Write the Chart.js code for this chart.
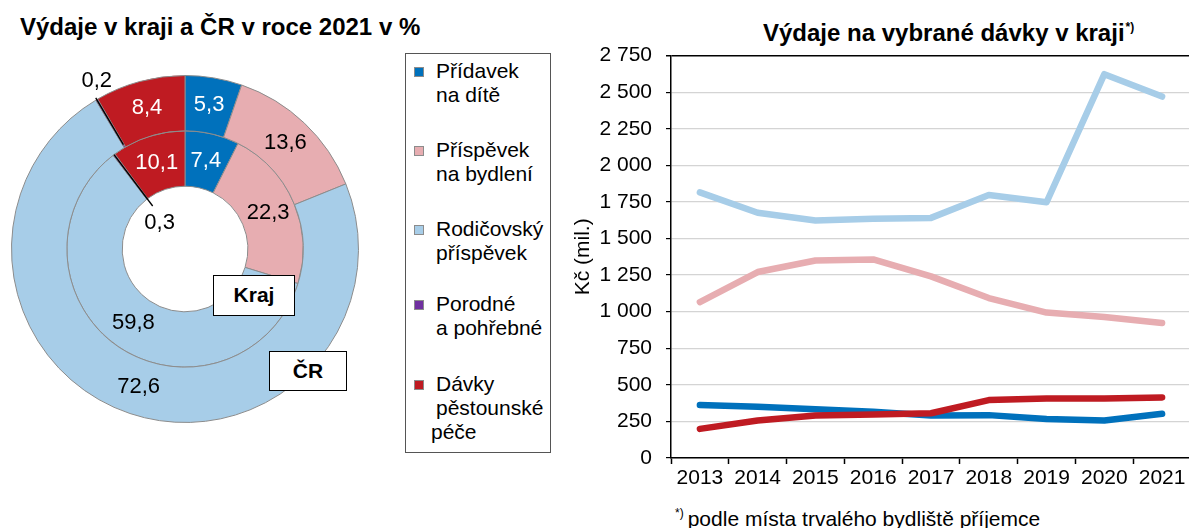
<!DOCTYPE html>
<html lang="cs">
<head>
<meta charset="utf-8">
<title>Výdaje na vybrané dávky</title>
<script src="https://cdn.jsdelivr.net/npm/chart.js@4/dist/chart.umd.min.js"></script>
<style>
  html, body { margin: 0; padding: 0; background: #fff; }
  body { position: relative; width: 1189px; height: 528px; overflow: hidden;
         font-family: "Liberation Sans", Arial, sans-serif; color: #000; }
  .abs { position: absolute; white-space: nowrap; }
  .title { font-weight: bold; font-size: 24px; line-height: 28px; }
  .title sup { font-size: 12px; font-weight: bold; vertical-align: 10px; margin-left: 1px; }
  .tag { box-sizing: border-box; border: 1.5px solid #000; background: #fff;
         font-weight: bold; font-size: 21px; text-align: center; }
  #legend { left: 405px; top: 53px; width: 146px; height: 400px; box-sizing: border-box;
            border: 1px solid #555; }
  .item { position: absolute; left: 30px; font-size: 21px; line-height: 24px; }
  .swatch { position: absolute; left: -22px; top: 8px; width: 8px; height: 8px; border: 1px solid #8c8c8c; }
  #note { left: 675px; top: 501px; font-size: 21px; line-height: 24px; }
  #note sup { font-size: 12px; vertical-align: 9px; margin-right: 4px; }
</style>
</head>
<body>

<div class="abs title" style="left:20px; top:13px;">Výdaje v kraji a ČR v roce 2021 v %</div>
<div class="abs title" style="left:763px; top:13px;">Výdaje na vybrané dávky v kraji<sup>*)</sup></div>

<canvas id="ring" class="abs" style="left:0; top:40px;" width="380" height="430"></canvas>
<div class="abs tag" style="left:213px; top:275px; width:82px; height:41px; line-height:38px;">Kraj</div>
<div class="abs tag" style="left:269px; top:351px; width:78px; height:40px; line-height:37px;">ČR</div>

<div id="legend" class="abs"></div>

<canvas id="lines" class="abs" style="left:560px; top:29px;" width="640" height="471"></canvas>
<div id="note" class="abs"><sup>*)</sup>podle místa trvalého bydliště příjemce</div>

<script>
// categories (doughnut + legend)
const categories = ['Přídavek na dítě', 'Příspěvek na bydlení', 'Rodičovský příspěvek', 'Porodné a pohřebné', 'Dávky pěstounské péče'];
const legendLines = [['Přídavek', 'na dítě'], ['Příspěvek', 'na bydlení'], ['Rodičovský', 'příspěvek'], ['Porodné', 'a pohřebné'], ['Dávky', 'pěstounské', 'péče']];
const colors = ['#0071bc', '#e7adb1', '#a7cde8', '#7030a0', '#bf1b22'];
const labelColors = ['#fff', '#000', '#000', '#000', '#fff'];

// shares in % (outer ring = ČR, inner ring = Kraj)
const shareCR = [5.3, 13.6, 72.6, 0.2, 8.4];
const shareKraj = [7.4, 22.3, 59.8, 0.3, 10.1];

// line chart, Kč (mil.)
const years = ['2013', '2014', '2015', '2016', '2017', '2018', '2019', '2020', '2021'];
const pridavek = [362, 350, 333, 316, 290, 293, 267, 256, 302];
const bydleni = [1066, 1271, 1350, 1357, 1241, 1093, 994, 964, 923];
const rodicovsky = [1815, 1676, 1623, 1635, 1641, 1798, 1748, 2623, 2470];
const pestounske = [199, 256, 290, 298, 306, 396, 407, 407, 414];
const yMax = 2750;
const yStep = 250;

const fontFamily = '"Liberation Sans", Arial, sans-serif';

// legend
const legend = document.getElementById('legend');
const legendTops = [5, 84, 163, 238, 318];
legendLines.forEach((lines, i) => {
    const item = document.createElement('div');
    item.className = 'item';
    item.style.top = legendTops[i] + 'px';
    item.innerHTML = `<span class="swatch" style="background:${colors[i]}"></span>` +
        lines.map((t, j) => (i === 4 && j === 2) ? `<span style="margin-left:-5px">${t}</span>` : t).join('<br>');
    legend.appendChild(item);
});

// value labels on the rings
const ringLabels = {
    id: 'ringLabels',
    afterDatasetsDraw(chart) {
        const ctx = chart.ctx;
        ctx.save();
        ctx.font = '22px ' + fontFamily;
        ctx.textAlign = 'center';
        ctx.textBaseline = 'middle';
        chart.data.datasets.forEach((ds, di) => {
            chart.getDatasetMeta(di).data.forEach((arc, i) => {
                const p = arc.getProps(['x', 'y', 'startAngle', 'endAngle', 'innerRadius', 'outerRadius']);
                const mid = (p.startAngle + p.endAngle) / 2;
                const cos = Math.cos(mid), sin = Math.sin(mid);
                const text = ds.data[i].toFixed(1).replace('.', ',');
                if (ds.data[i] < 1) {
                    // tiny slice: leader line
                    const r1 = di === 0 ? p.outerRadius + 2 : p.outerRadius;
                    const r2 = di === 0 ? p.innerRadius + 3 : p.innerRadius - 9;
                    ctx.strokeStyle = '#000';
                    ctx.lineWidth = 1.3;
                    ctx.beginPath();
                    ctx.moveTo(p.x + cos * r1, p.y + sin * r1);
                    ctx.lineTo(p.x + cos * r2, p.y + sin * r2);
                    ctx.stroke();
                    ctx.fillStyle = '#000';
                    if (di === 0) {
                        ctx.fillText(text, p.x + cos * p.outerRadius, p.y + sin * p.outerRadius - 19);
                    } else {
                        ctx.fillText(text, p.x + cos * r2 + 7, p.y + sin * r2 + 17);
                    }
                } else {
                    const r = (p.innerRadius + p.outerRadius) / 2;
                    ctx.fillStyle = labelColors[i];
                    ctx.fillText(text, p.x + cos * r, p.y + sin * r);
                }
            });
        });
        ctx.restore();
    }
};

new Chart(document.getElementById('ring'), {
    type: 'doughnut',
    data: {
        labels: categories,
        datasets: [
            { label: 'ČR', data: shareCR, backgroundColor: colors, borderColor: '#8c8c8c', borderWidth: 1 },
            { label: 'Kraj', data: shareKraj, backgroundColor: colors, borderColor: '#8c8c8c', borderWidth: 1 }
        ]
    },
    options: {
        responsive: false,
        animation: false,
        events: [],
        cutout: '36.2%',
        layout: { padding: { left: 11, right: 21, top: 35, bottom: 47 } },
        plugins: { legend: { display: false }, tooltip: { enabled: false } }
    },
    plugins: [ringLabels]
});

function thousands(v) {
    return String(v).replace(/\B(?=(\d{3})+$)/g, ' ');
}

const lineStyle = { borderWidth: 6.5, pointRadius: 0, tension: 0, fill: false,
                    borderCapStyle: 'round', borderJoinStyle: 'round' };

new Chart(document.getElementById('lines'), {
    type: 'line',
    data: {
        labels: years,
        datasets: [
            { label: categories[4], data: pestounske, borderColor: colors[4], ...lineStyle },
            { label: categories[0], data: pridavek, borderColor: colors[0], ...lineStyle },
            { label: categories[1], data: bydleni, borderColor: colors[1], ...lineStyle },
            { label: categories[2], data: rodicovsky, borderColor: colors[2], ...lineStyle }
        ]
    },
    options: {
        responsive: false,
        animation: false,
        events: [],
        layout: { padding: { top: 4, right: 9, left: 0, bottom: 0 } },
        plugins: { legend: { display: false }, tooltip: { enabled: false } },
        scales: {
            x: {
                offset: true,
                grid: { offset: true, drawOnChartArea: false, tickLength: 6, tickColor: '#000', tickWidth: 1.5 },
                border: { color: '#000', width: 1.5 },
                ticks: { color: '#000', font: { size: 21, family: fontFamily }, padding: 2, maxRotation: 0, autoSkip: false },
                afterFit: s => { s.height = 42; }
            },
            y: {
                min: 0,
                max: yMax,
                ticks: { stepSize: yStep, color: '#000', font: { size: 21, family: fontFamily }, padding: 14,
                         callback: v => thousands(v) },
                grid: {
                    color: c => (c.tick && c.tick.value === yMax) ? '#000' : '#d4d4d4',
                    lineWidth: c => (c.tick && c.tick.value === yMax) ? 1.5 : 1.2,
                    tickLength: 5, tickColor: '#000'
                },
                border: { color: '#000', width: 1.5 },
                title: { display: true, text: 'Kč (mil.)', color: '#000',
                         font: { size: 21, family: fontFamily }, padding: { top: 11, bottom: 0 } },
                afterFit: s => { s.width = 111; }
            }
        }
    }
});
</script>
</body>
</html>
